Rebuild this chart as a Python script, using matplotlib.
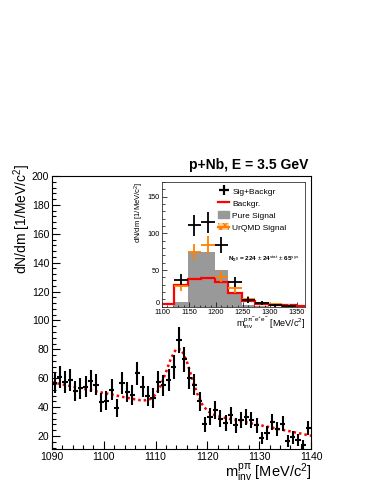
import numpy as np
import matplotlib
matplotlib.use("Agg")
import matplotlib.pyplot as plt
from matplotlib.lines import Line2D
from matplotlib.patches import Patch
from matplotlib.ticker import MultipleLocator

plt.rcParams['font.family'] = ['Liberation Sans', 'DejaVu Sans']
plt.rcParams['mathtext.fontset'] = 'custom'
plt.rcParams['mathtext.rm'] = 'Liberation Sans'
plt.rcParams['mathtext.it'] = 'Liberation Sans:italic'
plt.rcParams['mathtext.bf'] = 'Liberation Sans:bold'

# ---------------- main panel data ----------------
mass_centers = np.arange(1090.5, 1140.0, 1.0)
counts = [57, 61, 57.5, 59, 51, 53, 54, 58, 55.5, 43.5,
          44.5, 52, 39.5, 56.5, 50.5, 48.5, 63.5, 54, 48, 46.5,
          57.5, 55, 59, 68, 86.5, 73, 60, 55.5, 44, 28,
          33.5, 38, 32, 29, 34.5, 27.5, 31, 33, 31, 27.5,
          18.5, 22, 29.5, 25, 28.5, 16.5, 19, 17.5, 13.5, 25.5]
count_errs = [7.5, 7.8, 7.6, 7.7, 7.1, 7.3, 7.3, 7.6, 7.4, 6.6,
              6.7, 7.2, 6.3, 7.5, 7.1, 7.0, 8.0, 7.3, 6.9, 6.8,
              7.6, 7.4, 7.7, 8.2, 9.3, 8.5, 7.7, 7.4, 6.6, 5.3,
              5.8, 6.2, 5.7, 5.4, 5.9, 5.2, 5.6, 5.7, 5.6, 5.2,
              4.3, 4.7, 5.4, 5.0, 5.3, 4.1, 4.4, 4.2, 3.7, 5.0]
fit_x = np.arange(1090, 1141, 1)
fit_y = [57.2, 56.5, 55.7, 55.0, 54.2, 53.5, 52.8, 52.0, 51.3, 50.5,
         49.8, 49.1, 48.3, 47.6, 46.8, 46.1, 45.4, 44.8, 44.7, 45.6,
         48.6, 54.9, 64.2, 74.1, 80.4, 79.7, 71.9, 60.5, 49.7, 41.9,
         37.4, 35.1, 33.7, 32.9, 32.0, 31.3, 30.6, 29.8, 29.1, 28.3,
         27.6, 26.9, 26.1, 25.4, 24.6, 23.9, 23.2, 22.4, 21.7, 20.9, 20.2]

# ---------------- inset data ----------------
inset_x = [1135, 1160, 1185, 1210, 1235, 1260, 1285, 1310, 1335]
sig_bkg = [37, 111, 115, 84, 34, 9, 5, 2, 1]
sig_bkg_err = [8, 14, 14, 11, 7, 4, 3, 2, 1.5]
urqmd = [28, 75, 84, 41, 25, 10, 5, 3, 1.5]
urqmd_err = [7, 11, 12, 8, 6, 4, 3, 2, 1.5]
hist_edges = [1100, 1122.5, 1147.5, 1172.5, 1197.5, 1222.5, 1247.5,
              1272.5, 1297.5, 1322.5, 1347.5, 1365]
bkg_hist = [3, 30, 38, 39, 34, 18, 8, 4, 2, 2, 1]
pure_hist = [0, 6, 74, 74, 50, 17, 2, 1, 0, 0, 0]

W, H = 374, 484
fig = plt.figure(figsize=(W / 100, H / 100), dpi=100)

def fx(px):
    return px / W

def fy(py):
    return 1 - py / H

# ---------------- main axes ----------------
ax = fig.add_axes([fx(52), fy(449), fx(311) - fx(52), fy(176) - fy(449)])
ax.plot(fit_x, fit_y, color='red', ls=(0, (1, 1.2)), lw=1.8, zorder=2)
ax.errorbar(mass_centers, counts, yerr=count_errs, xerr=0.5, fmt='none',
            ecolor='black', elinewidth=1.5, capsize=0, zorder=3)
ax.set_xlim(1090, 1140)
ax.set_ylim(11, 200)
ax.xaxis.set_major_locator(MultipleLocator(10))
ax.xaxis.set_minor_locator(MultipleLocator(2))
ax.yaxis.set_major_locator(MultipleLocator(20))
ax.yaxis.set_minor_locator(MultipleLocator(4))
ax.tick_params(which='both', direction='in', top=False, right=False,
               labelsize=7.5, width=0.8, pad=2)
ax.tick_params(which='major', length=6)
ax.tick_params(which='minor', length=3)
ax.set_yticks([20, 40, 60, 80, 100, 120, 140, 160, 180, 200])
for s in ax.spines.values():
    s.set_linewidth(0.8)

fig.text(fx(22), fy(164), r'dN/dm [1/MeV/c$^{2}$]', rotation=90,
         ha='center', va='top', fontsize=10)
fig.text(fx(312), fy(473), r'm$^{\rm p\pi}_{\rm inv}$ [MeV/c$^{2}$]',
         ha='right', va='center', fontsize=10.5)
fig.text(fx(308), fy(165), 'p+Nb, E = 3.5 GeV', ha='right', va='center',
         fontsize=10, fontweight='bold')

# ---------------- inset ----------------
ins = fig.add_axes([fx(162), fy(306.7), fx(305) - fx(162), fy(182) - fy(306.7)])
ins.stairs(pure_hist, hist_edges, fill=True, color='#999999', zorder=1)
ins.stairs(bkg_hist, hist_edges, color='red', lw=1.6, baseline=None, zorder=2)
ins.errorbar(inset_x, urqmd, yerr=urqmd_err, xerr=12.5, fmt='none',
             ecolor='#ff8000', elinewidth=1.3, capsize=0, zorder=3)
ins.errorbar(inset_x, sig_bkg, yerr=sig_bkg_err, xerr=12.5, fmt='none',
             ecolor='black', elinewidth=1.3, capsize=0, zorder=4)
ins.set_xlim(1100, 1365)
ins.set_ylim(0, 170)
ins.xaxis.set_major_locator(MultipleLocator(50))
ins.xaxis.set_minor_locator(MultipleLocator(10))
ins.yaxis.set_major_locator(MultipleLocator(50))
ins.yaxis.set_minor_locator(MultipleLocator(10))
ins.tick_params(which='both', direction='in', top=False, right=False,
                labelsize=5.3, width=0.5, pad=1.5)
ins.tick_params(which='major', length=3.5)
ins.tick_params(which='minor', length=1.8)
for s in ins.spines.values():
    s.set_linewidth(0.6)
    s.set_color('#333333')
fig.canvas.draw()
for t in ins.get_yticklabels():
    if t.get_text() == '0':
        t.set_verticalalignment('bottom')

fig.text(fx(139), fy(182), r'dN/dm [1/MeV/c$^{2}$]', rotation=90,
         ha='center', va='top', fontsize=5.5)
fig.text(fx(305), fy(323), r'm$^{\rm p\pi^{-}e^{+}e^{-}}_{\rm inv}$ [MeV/c$^{2}$]',
         ha='right', va='center', fontsize=6.5)
ins.text(0.46, 0.38,
         r'$\mathbf{N_{\Sigma^{0}}}$ = 224 $\pm$ 24$^{\rm stat}$ $\pm$ 65$^{\rm sys}$',
         transform=ins.transAxes, fontsize=4.6, fontweight='bold',
         ha='left', va='center')

handles = [
    Line2D([], [], color='black', marker='+', ls='none', markersize=7, mew=1.6),
    Line2D([], [], color='red', lw=1.6),
    Patch(facecolor='#999999', edgecolor='#999999'),
    (Patch(facecolor='#ffd0a0', edgecolor='#ff8000', hatch='xxxx', lw=0),
     Line2D([], [], color='#ff8000', lw=1.6)),
]
labels = ['Sig+Backgr', 'Backgr.', 'Pure Signal', 'UrQMD Signal']
ins.legend(handles, labels, loc='upper left', bbox_to_anchor=(0.37, 0.985),
           frameon=False, fontsize=6, handlelength=1.3, handleheight=0.9,
           handletextpad=0.4, labelspacing=0.45, borderaxespad=0)

fig.savefig('out.png', dpi=100)
